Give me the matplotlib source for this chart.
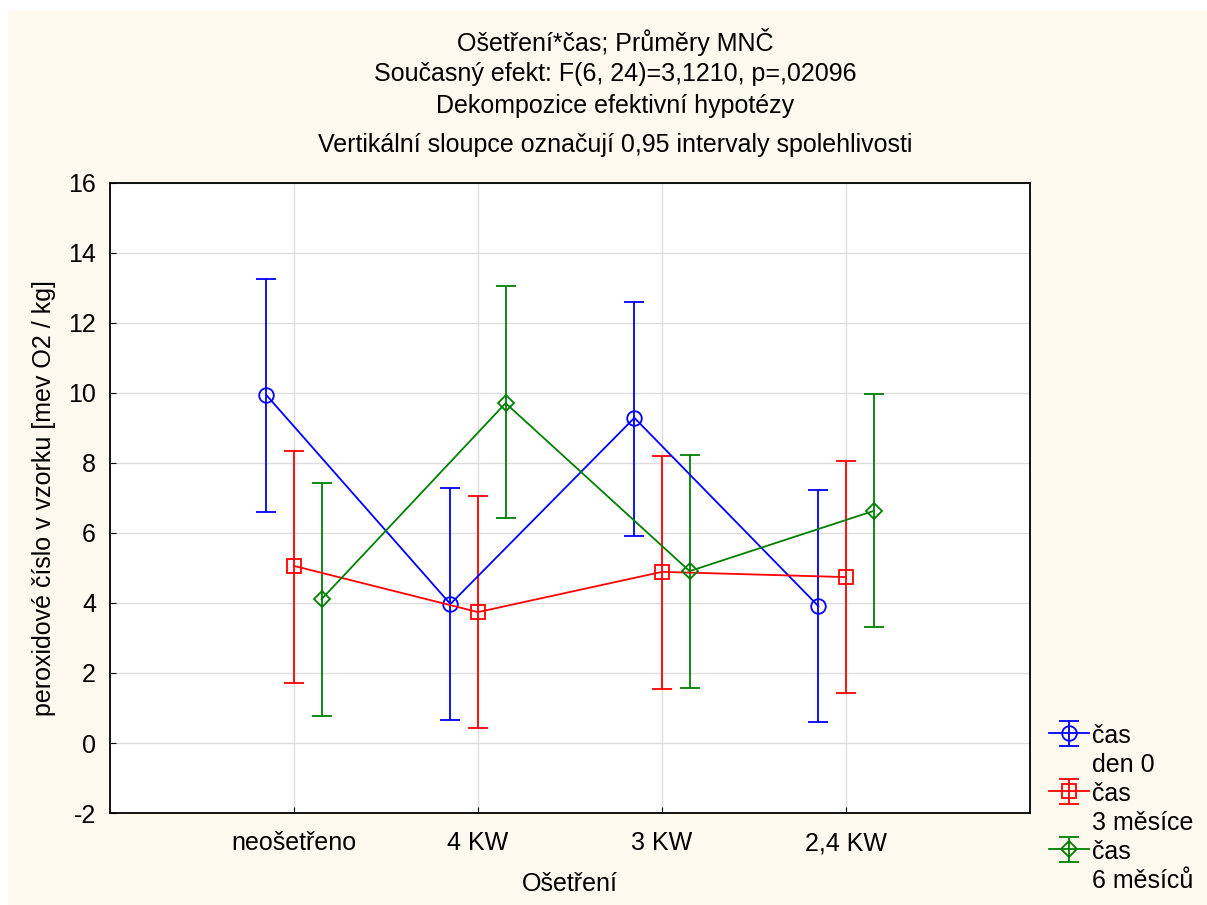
import numpy as np
import matplotlib.pyplot as plt
from matplotlib.patches import Rectangle
from matplotlib.lines import Line2D

plt.rcParams['font.family'] = ['Liberation Sans', 'DejaVu Sans']
plt.rcParams['axes.unicode_minus'] = False

categories = ["neošetřeno", "4 KW", "3 KW", "2,4 KW"]
series_top = ["čas", "čas", "čas"]
series_bottom = ["den 0", "3 měsíce", "6 měsíců"]

mean_den0 = [9.94, 3.97, 9.29, 3.91]
low_den0 = [6.61, 0.66, 5.91, 0.60]
high_den0 = [13.26, 7.29, 12.60, 7.23]

mean_3m = [5.06, 3.74, 4.89, 4.74]
low_3m = [1.71, 0.43, 1.54, 1.43]
high_3m = [8.34, 7.06, 8.20, 8.06]

mean_6m = [4.11, 9.71, 4.91, 6.63]
low_6m = [0.77, 6.43, 1.57, 3.31]
high_6m = [7.43, 13.06, 8.23, 9.97]

colors = ["#0000FF", "#FF0000", "#008000"]
markers = ["o", "s", "D"]
msizes = [10.5, 10.5, 8]
offsets = [-0.15, 0.0, 0.15]

fig = plt.figure(figsize=(12.07, 9.05), dpi=100, facecolor="white")
fig.patches.append(Rectangle((8 / 1207, 0), 1, 1 - 10 / 905, transform=fig.transFigure,
                             facecolor="#FDF9EF", edgecolor="none", zorder=-10))

ax = fig.add_axes([110 / 1207, 1 - 813 / 905, 920 / 1207, 630 / 905])
ax.set_facecolor("white")

x = np.arange(1, len(categories) + 1)
handles = []
labels = []
data = [(mean_den0, low_den0, high_den0), (mean_3m, low_3m, high_3m), (mean_6m, low_6m, high_6m)]
for i, ((m, lo, hi), c, mk, ms, off) in enumerate(zip(data, colors, markers, msizes, offsets)):
    m = np.array(m)
    yerr = [m - np.array(lo), np.array(hi) - m]
    h = ax.errorbar(x + off, m, yerr=yerr, color=c, marker=mk, markersize=ms,
                    markerfacecolor="none", markeredgecolor=c, markeredgewidth=1.3,
                    linewidth=1.3, elinewidth=1.3, capsize=7, capthick=1.3)
    handles += [h, Line2D([], [], linestyle="none")]
    labels += [series_top[i], series_bottom[i]]

ax.set_xlim(0, 5)
ax.set_ylim(-2, 16)
ax.set_xticks(x)
ax.set_xticklabels(categories)
ax.set_yticks(np.arange(-2, 17, 2))
ax.grid(True, color="#DDDDDD", linewidth=1)
ax.set_axisbelow(True)
ax.tick_params(direction="in", length=4, labelsize=18)
ax.tick_params(axis="x", pad=13)
ax.tick_params(axis="y", pad=10)
for s in ax.spines.values():
    s.set_linewidth(1.3)

ax.set_xlabel("Ošetření", fontsize=18, labelpad=12)
ax.set_ylabel("peroxidové číslo v vzorku [mev O2 / kg]", fontsize=18, labelpad=9)

titles = ["Ošetření*čas; Průměry MNČ",
          "Současný efekt: F(6, 24)=3,1210, p=,02096",
          "Dekompozice efektivní hypotézy",
          "Vertikální sloupce označují 0,95 intervaly spolehlivosti"]
ys = [42, 74, 106, 145]
for t, yy in zip(titles, ys):
    fig.text(615 / 1207, 1 - yy / 905, t, ha="center", va="center", fontsize=18)

fig.legend(handles, labels, loc="lower left", bbox_to_anchor=(1036 / 1207, 0.0),
           frameon=False, fontsize=18, handlelength=1.6, handletextpad=0.15,
           labelspacing=0.2, borderaxespad=0.1, handleheight=0.9)

fig.savefig("out.png", dpi=100, facecolor=fig.get_facecolor())
